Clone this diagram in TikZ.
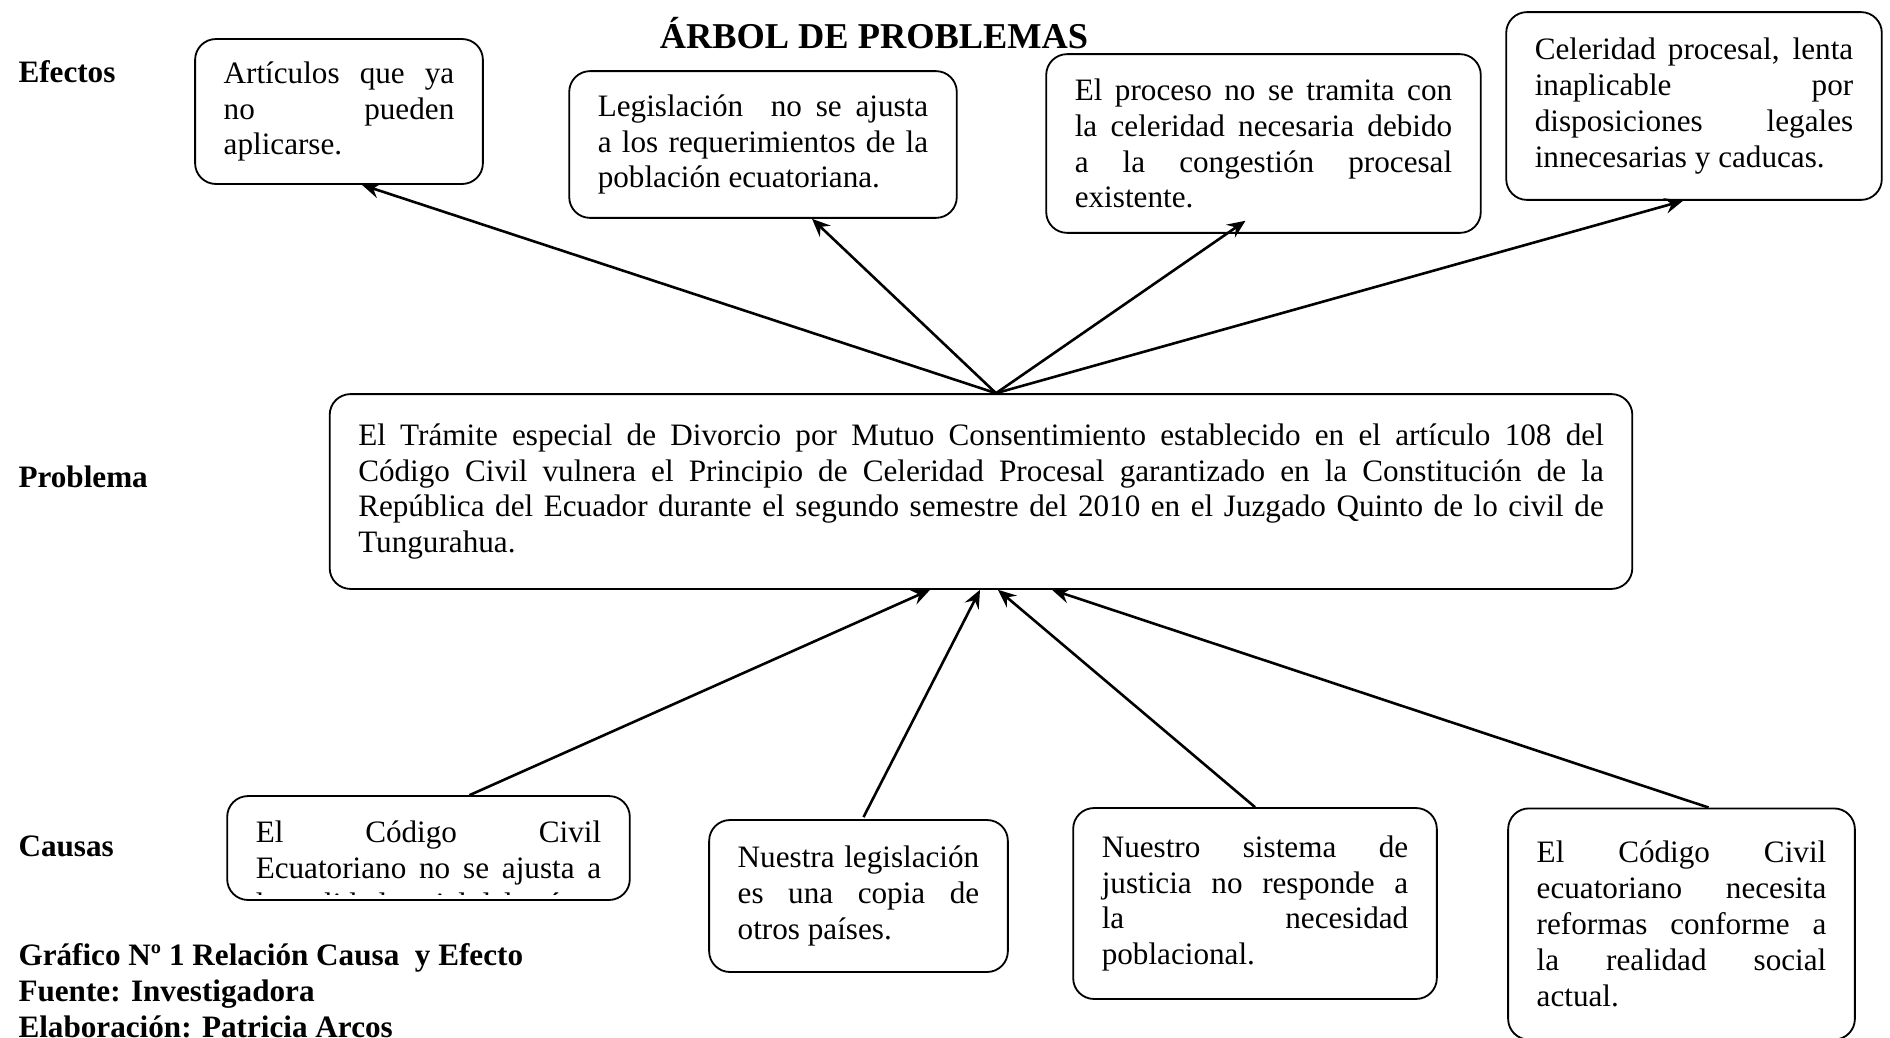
\documentclass[tikz,border=0pt]{standalone}
\usepackage{fontspec}
\setmainfont{Liberation Serif}
\usetikzlibrary{calc,arrows.meta}
\tolerance=10000
\tikzset{texto/.style={align=justify,font=\fontsize{12}{13.8}\selectfont},
	 caja/.style={texto,draw,rounded corners=8pt,line width=0.7pt,inner xsep=11pt,inner ysep=0pt},
	 flecha/.style={-{Stealth[length=7pt,width=6pt,inset=2.5pt]},line width=1pt},
	 rotulo/.style={anchor=west,inner sep=0pt,font=\fontsize{12}{13.8}\selectfont\bfseries}
	 }

\begin{document}
\begin{tikzpicture}[x=0.385pt,y=-0.385pt] % arbol de problemas
	\useasboundingbox (0,0) rectangle (1890,1037);
	\node[font=\fontsize{14}{16}\selectfont\bfseries] (titulo) at (874,33) {ÁRBOL DE PROBLEMAS};
	\node[rotulo] (efectos) at (18,72) {Efectos};
	\node[rotulo] (problema) at (18,477) {Problema};
	\node[rotulo] (causas) at (18,846) {Causas};
	\node[rotulo] (grafico) at (18,958) {Gráfico Nº 1 Relación Causa \ y Efecto};
	\node[rotulo] (fuente) at (18,994) {Fuente: Investigadora};
	\node[rotulo] (elaboracion) at (18,1027) {Elaboración: Patricia Arcos};
	% efectos
	\node[caja,text width=88.8pt,minimum height=55.8pt] (e1) at (339,111.5) {Artículos que ya\linebreak no pueden\linebreak aplicarse.};
	\node[caja,text width=127.2pt,minimum height=56.5pt] (e2) at (763,144.5) {Legislación \ no se ajusta\linebreak a los requerimientos de la\linebreak población ecuatoriana.};
	\node[caja,text width=145.3pt,minimum height=68.8pt] (e3) at (1263.5,143.5) {El proceso no se tramita con\linebreak la celeridad necesaria debido\linebreak a la congestión procesal\linebreak existente.};
	\node[caja,text width=122.6pt,minimum height=72.3pt] (e4) at (1694,106) {Celeridad procesal, lenta\linebreak inaplicable por\linebreak disposiciones legales\linebreak innecesarias y caducas.};
	% problema
	\node[caja,text width=479.5pt,minimum height=75pt] (prob) at (981,491.5) {El Trámite especial de Divorcio por Mutuo Consentimiento establecido en el artículo 108 del\linebreak Código Civil vulnera el Principio de Celeridad Procesal garantizado en la Constitución de la\linebreak República del Ecuador durante el segundo semestre del 2010 en el Juzgado Quinto de lo civil de\linebreak Tungurahua.};
	% causas
	\node[caja,text width=133pt,minimum height=40pt] (c1) at (428.5,848) {};
	\begin{scope}
		\clip[rounded corners=8pt] ($(c1.south west)+(0,-6)$) rectangle (c1.north east);
		\node[texto,anchor=north,text width=133pt,inner sep=0pt] (c1txt) at ($(c1.north)+(0,22)$) {\strut El Código Civil\linebreak Ecuatoriano no se ajusta a\linebreak la realidad social del país};
	\end{scope}
	\node[caja,text width=93pt,minimum height=58.5pt] (c2) at (858.5,896) {Nuestra legislación\linebreak es una copia de\linebreak otros países.};
	\node[caja,text width=118pt,minimum height=73.5pt] (c3) at (1255,903.5) {Nuestro sistema de\linebreak justicia no responde a\linebreak la necesidad\linebreak poblacional.};
	\node[caja,text width=111.5pt,minimum height=89pt] (c4) at (1681.5,924) {El Código Civil\linebreak ecuatoriano necesita\linebreak reformas conforme a\linebreak la realidad social\linebreak actual.};
	% flechas
	\draw[flecha] ($(prob.north)+(15,0)$) to ($(e1.south)+(23,0)$);
	\draw[flecha] ($(prob.north)+(15,0)$) to ($(e2.south)+(49,0)$);
	\draw[flecha] ($(prob.north)+(15,0)$) to ($(e3.south)+(-18,-13)$);
	\draw[flecha] ($(prob.north)+(15,0)$) to ($(e4.south)+(-11,0)$);
	\draw[flecha] ($(c1.north)+(41,0)$) to ($(prob.south)+(-51,0)$);
	\draw[flecha] ($(c2.north)+(5,-2)$) to ($(prob.south)+(-1,0)$);
	\draw[flecha] (c3.north) to ($(prob.south)+(17,0)$);
	\draw[flecha] ($(c4.north)+(27,0)$) to ($(prob.south)+(71,0)$);
\end{tikzpicture}
\end{document}
